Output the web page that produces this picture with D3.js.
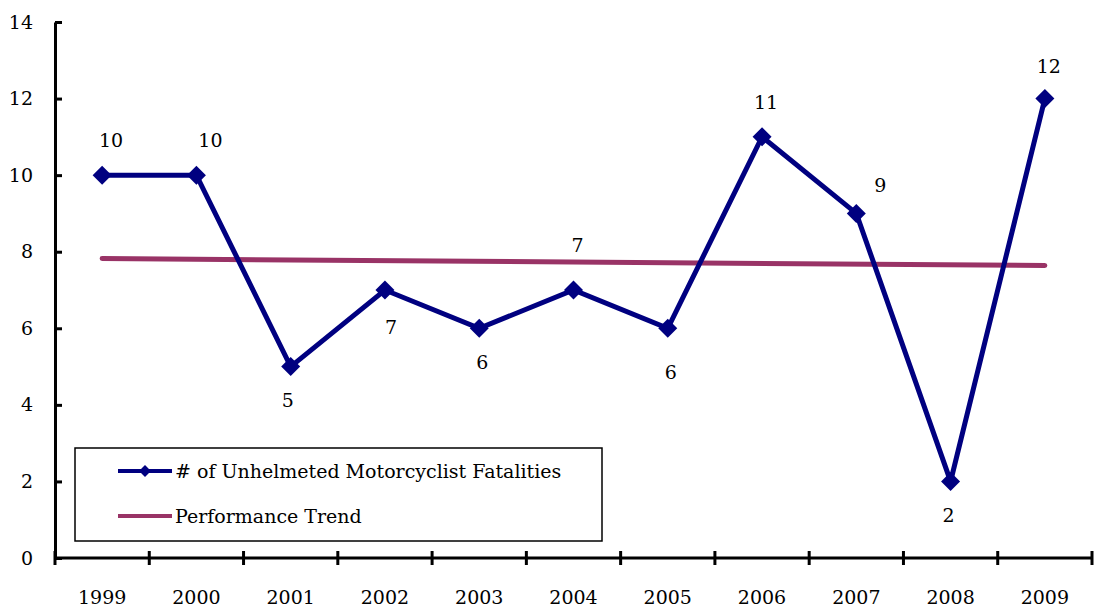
<!DOCTYPE html>
<html>
<head>
<meta charset="utf-8">
<script src="https://cdn.jsdelivr.net/npm/d3@7"></script>
<style>
  body { margin: 0; background: #fff; }
</style>
</head>
<body>
<div id="chart"></div>
<script>
// data
const years = ["1999", "2000", "2001", "2002", "2003", "2004", "2005", "2006", "2007", "2008", "2009"];
const fatalities = [10, 10, 5, 7, 6, 7, 6, 11, 9, 2, 12];
const trendEnds = [7.82, 7.64];   // trend line at 1999 and at 2009
const yTicks = [0, 2, 4, 6, 8, 10, 12, 14];
const labelSide = ["above", "above", "below", "below", "below", "above", "below", "above", "above", "below", "above"];

const seriesName = "# of Unhelmeted Motorcyclist Fatalities";
const trendName = "Performance Trend";

var FONT = "'DejaVu Serif', 'Liberation Serif', serif";
var FS = "19px";

// set the dimensions and margins of the graph
var W = 1094, H = 608;
var margin = {top: 22, right: 2, bottom: 50, left: 55},
    width = W - margin.left - margin.right,
    height = H - margin.top - margin.bottom;

var svg = d3.select("#chart")
    .append("svg")
    .attr("width", W)
    .attr("height", H)
    .append("g")
    .attr("transform", "translate(" + margin.left + "," + margin.top + ")");

var x = d3.scaleBand()
    .domain(years)
    .range([0, width]);

var y = d3.scaleLinear()
    .domain([0, 14])
    .range([height, 0]);

var cx = function(d, i) { return x(years[i]) + x.bandwidth() / 2; };

// Y axis
var yAxis = svg.append("g")
    .call(d3.axisLeft(y).tickValues(yTicks).tickSizeInner(7).tickSizeOuter(0).tickPadding(15));
yAxis.select(".domain").attr("stroke-width", 3);
yAxis.selectAll(".tick line").attr("x2", 7).attr("stroke-width", 3);
yAxis.selectAll(".tick text")
    .style("font-family", FONT)
    .style("font-size", FS);

// X axis, ticks on the band edges
var xAxis = svg.append("g")
    .attr("transform", "translate(0," + height + ")");
xAxis.append("line")
    .attr("x1", 0).attr("x2", width)
    .attr("stroke", "#000").attr("stroke-width", 3);
var edges = years.map(function(d) { return x(d); }).concat([width]);
xAxis.selectAll(".xt")
    .data(edges)
    .enter().append("line")
    .attr("x1", function(d) { return d; })
    .attr("x2", function(d) { return d; })
    .attr("y1", -7).attr("y2", 7)
    .attr("stroke", "#000").attr("stroke-width", 3);
xAxis.selectAll(".xl")
    .data(years)
    .enter().append("text")
    .attr("x", function(d) { return x(d) + x.bandwidth() / 2; })
    .attr("y", 46)
    .attr("text-anchor", "middle")
    .style("font-family", FONT)
    .style("font-size", FS)
    .text(function(d) { return d; });

// trend line
svg.append("line")
    .attr("x1", x(years[0]) + x.bandwidth() / 2)
    .attr("x2", x(years[years.length - 1]) + x.bandwidth() / 2)
    .attr("y1", y(trendEnds[0]))
    .attr("y2", y(trendEnds[1]))
    .attr("stroke", "#993366")
    .attr("stroke-width", 5)
    .attr("stroke-linecap", "round");

// fatalities line
var line = d3.line()
    .x(cx)
    .y(function(d) { return y(d); });

svg.append("path")
    .datum(fatalities)
    .attr("fill", "none")
    .attr("stroke", "#000080")
    .attr("stroke-width", 5)
    .attr("d", line);

var diamond = d3.symbol().type(d3.symbolDiamond2).size(230);

svg.selectAll(".pt")
    .data(fatalities)
    .enter().append("path")
    .attr("transform", function(d, i) { return "translate(" + cx(d, i) + "," + y(d) + ")"; })
    .attr("d", diamond)
    .attr("fill", "#000080");

// value labels
var nudgeX = [9, 14, -3, 6, 3, 4, 3, 4, 24, -2, 4];
var nudgeY = [0, 0, 0, 3, 0, 10, 10, 0, -7, 0, -3];
svg.selectAll(".vl")
    .data(fatalities)
    .enter().append("text")
    .attr("x", function(d, i) { return cx(d, i) + nudgeX[i]; })
    .attr("y", function(d, i) {
        var off = labelSide[i] === "above" ? -35 : 34;
        var sgn = labelSide[i] === "above" ? -1 : 1;
        return y(d) + off + sgn * nudgeY[i];
    })
    .attr("dy", "0.35em")
    .attr("text-anchor", "middle")
    .style("font-family", FONT)
    .style("font-size", FS)
    .text(function(d) { return d; });

// legend
var lg = svg.append("g")
    .attr("transform", "translate(" + (75 - margin.left) + "," + (448 - margin.top) + ")");
lg.append("rect")
    .attr("width", 527).attr("height", 93)
    .attr("fill", "#fff")
    .attr("stroke", "#000").attr("stroke-width", 1.5);
lg.append("line")
    .attr("x1", 43).attr("x2", 97).attr("y1", 23).attr("y2", 23)
    .attr("stroke", "#000080").attr("stroke-width", 4);
lg.append("path")
    .attr("transform", "translate(70,23)")
    .attr("d", d3.symbol().type(d3.symbolDiamond2).size(90))
    .attr("fill", "#000080");
lg.append("text")
    .attr("x", 100).attr("y", 23).attr("dy", "0.35em")
    .style("font-family", FONT)
    .style("font-size", FS)
    .text(seriesName);
lg.append("line")
    .attr("x1", 43).attr("x2", 97).attr("y1", 68).attr("y2", 68)
    .attr("stroke", "#993366").attr("stroke-width", 4);
lg.append("text")
    .attr("x", 100).attr("y", 68).attr("dy", "0.35em")
    .style("font-family", FONT)
    .style("font-size", FS)
    .text(trendName);
</script>
</body>
</html>
